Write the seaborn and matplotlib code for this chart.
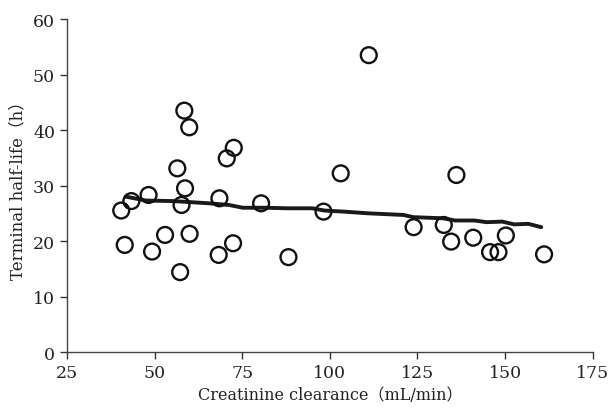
import matplotlib
matplotlib.use("Agg")
import matplotlib.pyplot as plt
import seaborn as sns
import pandas as pd

# Scatter data: creatinine clearance (mL/min) vs terminal half-life (h)
clearance = [40.5, 41.5, 43.4, 48.3, 49.3, 53.0, 56.5, 58.5, 59.9, 58.7, 57.7,
             57.3, 60.0, 68.5, 68.3, 70.6, 72.6, 72.4, 80.4, 88.2, 98.2, 103.1,
             111.1, 123.9, 132.5, 134.6, 136.1, 140.9, 145.7, 148.1, 150.2, 161.1]
half_life = [25.5, 19.3, 27.2, 28.3, 18.1, 21.1, 33.1, 43.5, 40.5, 29.5, 26.5,
             14.4, 21.3, 27.7, 17.5, 34.9, 36.8, 19.6, 26.8, 17.1, 25.3, 32.2,
             53.5, 22.5, 22.9, 19.9, 31.9, 20.6, 18.0, 18.0, 21.0, 17.6]

# Trend line
trend_x = [41.8, 47.5, 55.4, 65.6, 71.2, 75.2, 81.4, 88.2, 95.0, 98.4, 104.0,
           110.8, 121.0, 123.8, 132.3, 135.7, 141.3, 144.7, 149.2, 152.6, 156.6, 160.3]
trend_y = [28.0, 27.3, 27.2, 26.8, 26.5, 26.0, 26.0, 25.9, 25.9, 25.5, 25.3,
           25.0, 24.7, 24.3, 24.1, 23.7, 23.7, 23.4, 23.5, 23.0, 23.1, 22.5]

x_ticks = [25, 50, 75, 100, 125, 150, 175]
y_ticks = [0, 10, 20, 30, 40, 50, 60]

sns.set_theme(style="ticks")
plt.rcParams['font.family'] = ['DejaVu Serif', 'Noto Sans CJK JP']

fig = plt.figure(figsize=(6.08, 4.10), dpi=100)
ax = fig.add_axes([0.110, 0.139, 0.865, 0.812])

df = pd.DataFrame({"x": clearance, "y": half_life})
tdf = pd.DataFrame({"x": trend_x, "y": trend_y})

sns.lineplot(data=tdf, x="x", y="y", ax=ax, color="#1a1a1a", linewidth=2.8, zorder=2)
sns.scatterplot(data=df, x="x", y="y", ax=ax, s=130, facecolor="none",
                edgecolor="#111111", linewidth=1.7, zorder=3)

ax.set_xlim(25, 175)
ax.set_ylim(0, 60)
ax.set_xticks(x_ticks)
ax.set_yticks(y_ticks)
ax.tick_params(axis="both", labelsize=12.5, color="#333333", length=5, width=1,
               labelcolor="#222222", direction="out")
for s in ["top", "right"]:
    ax.spines[s].set_visible(False)
for s in ["left", "bottom"]:
    ax.spines[s].set_color("#444444")
    ax.spines[s].set_linewidth(1.0)

ax.set_xlabel("Creatinine clearance（mL/min）", fontsize=11.5, color="#222222", labelpad=4)
ax.set_ylabel("Terminal half-life（h）", fontsize=12, color="#222222", labelpad=5)

fig.savefig("out.png", dpi=100)
